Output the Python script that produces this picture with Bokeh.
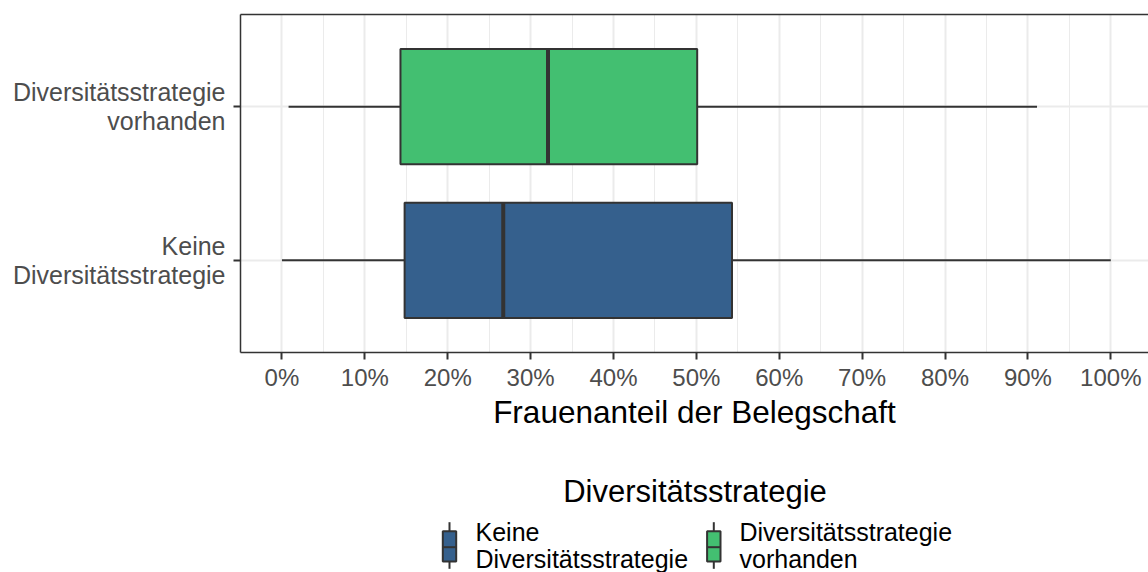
from bokeh.plotting import figure
from bokeh.models import Range1d, FixedTicker, LinearAxis
from bokeh.layouts import column
from bokeh.core.properties import value
from bokeh.embed import file_html
from bokeh.resources import INLINE

# ---------------- data ----------------
categories = ["Keine\nDiversitätsstrategie", "Diversitätsstrategie\nvorhanden"]
whisker_low = [0.0, 0.8]
q1 = [14.8, 14.3]
median = [26.7, 32.1]
q3 = [54.3, 50.1]
whisker_high = [100.0, 91.1]
fill_colors = ["#35608D", "#43BF71"]
x_ticks = [0, 10, 20, 30, 40, 50, 60, 70, 80, 90, 100]
x_minor = [5, 15, 25, 35, 45, 55, 65, 75, 85, 95]
x_tick_labels = ["0%", "10%", "20%", "30%", "40%", "50%", "60%", "70%", "80%", "90%", "100%"]
legend_title = "Diversitätsstrategie"
legend_labels = [["Keine", "Diversitätsstrategie"], ["Diversitätsstrategie", "vorhanden"]]
x_title = "Frauenanteil der Belegschaft"

FONT = "Liberation Sans"
DARK = "#333333"
GRID = "#EBEBEB"

y_pos = [i + 1 for i in range(len(categories))]
box_h = 0.75

W = 1148
H_MAIN = 450
H_LEG = 122

p = figure(width=W, height=H_MAIN, x_range=Range1d(-5, 104.55), y_range=Range1d(0.4, 2.6),
           output_backend="svg", toolbar_location=None,
           min_border_left=240, min_border_top=14, min_border_bottom=98, min_border_right=0)
p.outline_line_color = None
p.background_fill_color = "white"
p.border_fill_color = "white"

# axes
xa = p.xaxis[0]
xa.ticker = FixedTicker(ticks=x_ticks, minor_ticks=x_minor)
xa.major_label_overrides = {t: l for t, l in zip(x_ticks, x_tick_labels)}
xa.axis_label = x_title
xa.axis_label_text_font = FONT
xa.axis_label_text_font_size = "31.5px"
xa.axis_label_text_font_style = "normal"
xa.axis_label_text_color = "#000000"
xa.axis_label_standoff = 0
xa.major_label_text_font = FONT
xa.major_label_text_font_size = "24px"
xa.major_label_text_color = "#4D4D4D"
xa.major_label_standoff = 4
xa.major_tick_out = 7
xa.major_tick_in = 0
xa.major_tick_line_width = 2
xa.major_tick_line_color = DARK
xa.minor_tick_line_color = None
xa.axis_line_color = DARK
xa.axis_line_width = 1.5

ya = p.yaxis[0]
ya.ticker = FixedTicker(ticks=y_pos)
ya.major_label_overrides = {t: l for t, l in zip(y_pos, categories)}
ya.major_label_text_font = FONT
ya.major_label_text_font_size = "25px"
ya.major_label_text_color = "#4D4D4D"
ya.major_label_text_line_height = 1.05
ya.major_label_standoff = 8
ya.major_tick_out = 7
ya.major_tick_in = 0
ya.major_tick_line_width = 2
ya.major_tick_line_color = DARK
ya.minor_tick_line_color = None
ya.axis_line_color = DARK
ya.axis_line_width = 1.5

top = LinearAxis(ticker=FixedTicker(ticks=[]), major_tick_line_color=None,
                 minor_tick_line_color=None, major_label_standoff=0,
                 major_tick_out=0, major_tick_in=0,
                 axis_line_color=DARK, axis_line_width=1.5)
p.add_layout(top, "above")

# grids
p.xgrid.ticker = FixedTicker(ticks=x_ticks, minor_ticks=x_minor)
p.xgrid.grid_line_color = GRID
p.xgrid.grid_line_width = 2
p.xgrid.minor_grid_line_color = GRID
p.xgrid.minor_grid_line_width = 1
p.ygrid.ticker = FixedTicker(ticks=y_pos)
p.ygrid.grid_line_color = GRID
p.ygrid.grid_line_width = 2

# boxplots
p.segment(x0=whisker_low, y0=y_pos, x1=q1, y1=y_pos, line_color=DARK, line_width=2)
p.segment(x0=q3, y0=y_pos, x1=whisker_high, y1=y_pos, line_color=DARK, line_width=2)
p.hbar(y=y_pos, left=q1, right=q3, height=box_h, fill_color=fill_colors,
       line_color=DARK, line_width=2)
p.segment(x0=median, y0=[y - box_h / 2 for y in y_pos], x1=median,
          y1=[y + box_h / 2 for y in y_pos], line_color=DARK, line_width=4)

# ---------------- legend (separate canvas, page pixel coords) ----------------
lf = figure(width=W, height=H_LEG, x_range=Range1d(240, W), y_range=Range1d(H_MAIN + H_LEG, H_MAIN),
            output_backend="svg", toolbar_location=None,
            min_border_left=240, min_border_right=0, min_border_top=0, min_border_bottom=0,
            x_axis_location=None, y_axis_location=None)
lf.grid.visible = False
lf.outline_line_color = None

lf.text(x=[694.5], y=[491], text=[legend_title], text_font=value(FONT),
        text_font_size="31px", text_align="center", text_baseline="alphabetic",
        text_color="#000000")

key_cx = [449, 713.3]
text_x = [475, 739]
half_w = 6.7
lf.segment(x0=key_cx, y0=[521.7] * 2, x1=key_cx, y1=[568.3] * 2, line_color=DARK, line_width=2)
lf.quad(left=[c - half_w for c in key_cx], right=[c + half_w for c in key_cx],
        top=[530.7] * 2, bottom=[561] * 2, fill_color=fill_colors, line_color=DARK, line_width=2)
lf.segment(x0=[c - half_w for c in key_cx], y0=[546.7] * 2, x1=[c + half_w for c in key_cx],
           y1=[546.7] * 2, line_color=DARK, line_width=2)

tx, ty, tt = [], [], []
for i, lines in enumerate(legend_labels):
    for j, line in enumerate(lines):
        tx.append(text_x[i])
        ty.append(531 + 27.5 * j)
        tt.append(line)
lf.text(x=tx, y=ty, text=tt, text_font=value(FONT), text_font_size="25px",
        text_align="left", text_baseline="alphabetic", text_color="#000000")

layout = column(p, lf, spacing=0)
open("out.html", "w").write(file_html(layout, INLINE))
